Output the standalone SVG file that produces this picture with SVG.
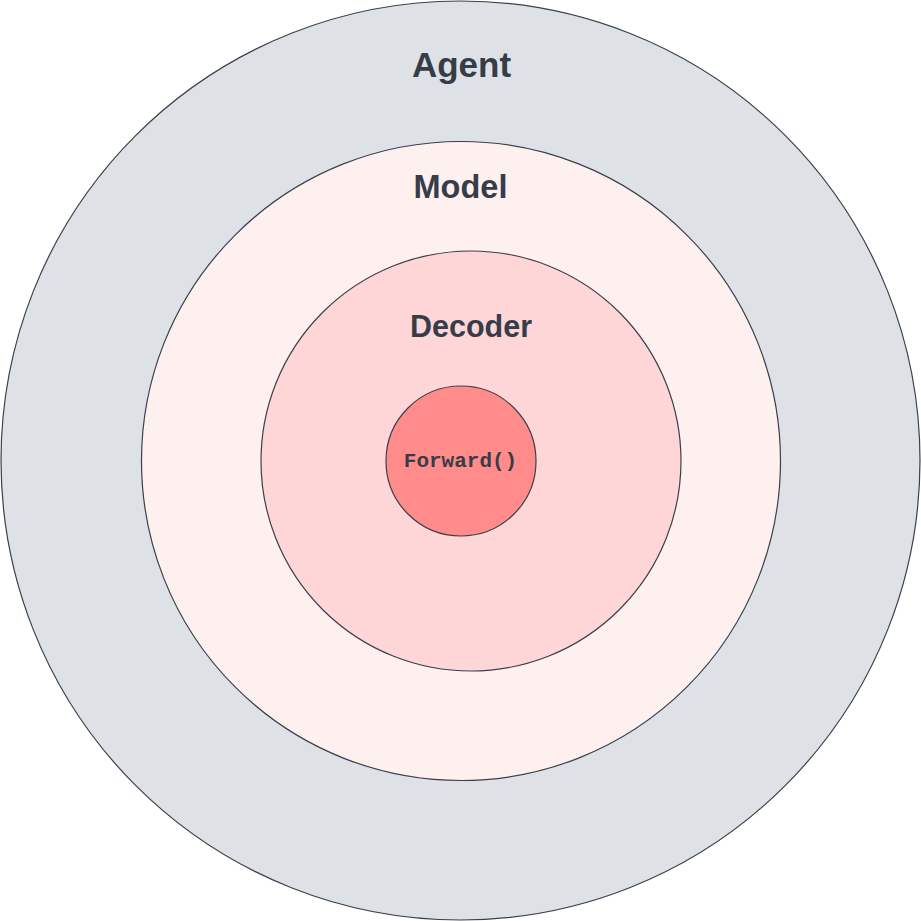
<svg xmlns="http://www.w3.org/2000/svg" width="921" height="921" viewBox="0 0 921 921">
<style>
.ring{stroke:#3a404a;stroke-width:1.2}
.lbl{font-family:"Liberation Sans",Arial,sans-serif;font-weight:bold;fill:#363d48;text-anchor:middle}
.code{font-family:"Liberation Mono","Courier New",monospace;font-weight:bold;fill:#363d48;text-anchor:middle}
</style>
<rect width="921" height="921" fill="#ffffff"/>
<g id="agent">
<circle class="ring" cx="460.5" cy="460.5" r="459.5" fill="#dee2e7"/>
<text class="lbl" x="461.5" y="77" font-size="35">Agent</text>
</g>
<g id="model">
<circle class="ring" cx="461" cy="461" r="319.5" fill="#fff0f0"/>
<text class="lbl" x="460.5" y="198" font-size="32.5">Model</text>
</g>
<g id="decoder">
<circle class="ring" cx="471" cy="461" r="210" fill="#ffd6d8"/>
<text class="lbl" x="471" y="337" font-size="30.5">Decoder</text>
</g>
<g id="forward">
<circle class="ring" cx="461" cy="461" r="75" fill="#ff8b8b"/>
<text class="code" x="460.5" y="467" font-size="21">Forward()</text>
</g>
<g id="connectors"/>
</svg>
